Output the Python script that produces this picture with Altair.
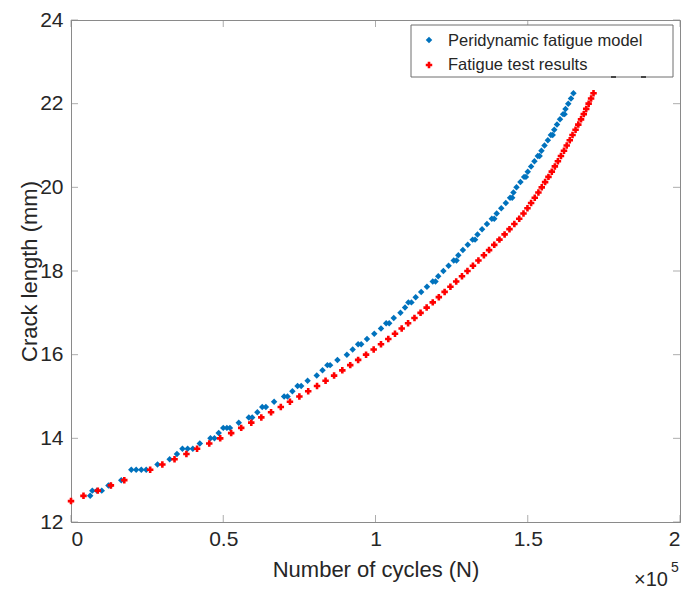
import altair as alt
import pandas as pd

# ---------------- data (x in units of 1e5 cycles, y in mm) ----------------
red_x = [0.0, 0.041, 0.088, 0.131, 0.175, 0.26, 0.30, 0.34, 0.379, 0.414,
         0.454, 0.49, 0.526, 0.559, 0.592, 0.625, 0.657, 0.689, 0.719, 0.750,
         0.779, 0.808, 0.836, 0.864, 0.891, 0.917, 0.943, 0.969, 0.994, 1.018,
         1.042, 1.064, 1.086, 1.107, 1.128, 1.148, 1.168, 1.188, 1.208, 1.227,
         1.246, 1.265, 1.284, 1.302, 1.320, 1.338, 1.356, 1.373, 1.390, 1.407,
         1.424, 1.440, 1.456, 1.472, 1.486, 1.499, 1.511, 1.523, 1.535, 1.546,
         1.557, 1.568, 1.579, 1.589, 1.599, 1.609, 1.619, 1.628, 1.638, 1.647,
         1.657, 1.666, 1.675, 1.684, 1.692, 1.700, 1.708, 1.716]
red_y = [12.5, 12.625, 12.75, 12.875, 13.0, 13.25, 13.375, 13.5, 13.625, 13.75,
         13.875, 14.0, 14.125, 14.25, 14.375, 14.5, 14.625, 14.75, 14.875, 15.0,
         15.125, 15.25, 15.375, 15.5, 15.625, 15.75, 15.875, 16.0, 16.125, 16.25,
         16.375, 16.5, 16.625, 16.75, 16.875, 17.0, 17.125, 17.25, 17.375, 17.5,
         17.625, 17.75, 17.875, 18.0, 18.125, 18.25, 18.375, 18.5, 18.625, 18.75,
         18.875, 19.0, 19.125, 19.25, 19.375, 19.5, 19.625, 19.75, 19.875, 20.0,
         20.125, 20.25, 20.375, 20.5, 20.625, 20.75, 20.875, 21.0, 21.125, 21.25,
         21.375, 21.5, 21.625, 21.75, 21.875, 22.0, 22.125, 22.25]

blue_x = [0.063, 0.070, 0.085, 0.101, 0.123, 0.130, 0.165, 0.198, 0.214, 0.231,
          0.247, 0.284, 0.324, 0.348, 0.366, 0.383, 0.400, 0.423, 0.458, 0.471,
          0.485, 0.500, 0.512, 0.522, 0.551, 0.584, 0.595, 0.612, 0.628, 0.640,
          0.667, 0.700, 0.711, 0.727, 0.744, 0.756, 0.777, 0.807, 0.826, 0.842,
          0.851, 0.875, 0.906, 0.925, 0.943, 0.953, 0.972, 0.996, 1.018, 1.035,
          1.045, 1.060, 1.082, 1.097, 1.108, 1.118, 1.132, 1.150, 1.169, 1.188,
          1.197, 1.206, 1.223, 1.240, 1.257, 1.266, 1.272, 1.287, 1.303, 1.319,
          1.327, 1.335, 1.350, 1.366, 1.382, 1.390, 1.398, 1.413, 1.428, 1.442,
          1.449, 1.453, 1.463, 1.476, 1.488, 1.494, 1.500, 1.511, 1.522, 1.533,
          1.539, 1.545, 1.555, 1.566, 1.576, 1.582, 1.587, 1.596, 1.606, 1.616,
          1.621, 1.624, 1.633, 1.642, 1.650]
blue_y = [12.625, 12.75, 12.75, 12.75, 12.875, 12.875, 13.0, 13.25, 13.25, 13.25,
          13.25, 13.375, 13.5, 13.625, 13.75, 13.75, 13.75, 13.875, 14.0, 14.0,
          14.125, 14.25, 14.25, 14.25, 14.375, 14.5, 14.5, 14.625, 14.75, 14.75,
          14.875, 15.0, 15.0, 15.125, 15.25, 15.25, 15.375, 15.5, 15.625, 15.75,
          15.75, 15.875, 16.0, 16.125, 16.25, 16.25, 16.375, 16.5, 16.625, 16.75,
          16.75, 16.875, 17.0, 17.125, 17.25, 17.25, 17.375, 17.5, 17.625, 17.75,
          17.75, 17.875, 18.0, 18.125, 18.25, 18.25, 18.375, 18.5, 18.625, 18.75,
          18.75, 18.875, 19.0, 19.125, 19.25, 19.25, 19.375, 19.5, 19.625, 19.75,
          19.75, 19.875, 20.0, 20.125, 20.25, 20.25, 20.375, 20.5, 20.625, 20.75,
          20.75, 20.875, 21.0, 21.125, 21.25, 21.25, 21.375, 21.5, 21.625, 21.75,
          21.75, 21.875, 22.0, 22.125, 22.25]

series_names = ["Peridynamic fatigue model", "Fatigue test results"]
x_ticks = [0, 0.5, 1, 1.5, 2]
y_ticks = [12, 14, 16, 18, 20, 22, 24]

BLUE = "#0072BD"
RED = "#FF0000"
GRAY = "#8a8a8a"
TXT = "#262626"
FONT = "Liberation Sans"

W, H = 609, 502
MS = 42  # marker area

blue_df = pd.DataFrame({"N": blue_x, "a": blue_y})
red_df = pd.DataFrame({"N": red_x, "a": red_y})
xt_df = pd.DataFrame({"v": x_ticks})
yt_df = pd.DataFrame({"v": y_ticks})
one = pd.DataFrame({"k": [0]})

xscale = alt.Scale(domain=[0, 2], nice=False, zero=False)
yscale = alt.Scale(domain=[12, 24], nice=False, zero=False)

xaxis = alt.Axis(values=x_ticks, format="~g", title="Number of cycles (N)",
                 ticks=False, grid=False, labelPadding=6, titlePadding=10)
yaxis = alt.Axis(values=y_ticks, format="d", title="Crack length (mm)",
                 ticks=False, grid=False, labelPadding=8, titlePadding=-2)

blue = alt.Chart(blue_df).mark_point(shape="diamond", filled=True, size=MS,
                                      color=BLUE, opacity=1).encode(
    x=alt.X("N:Q", scale=xscale, axis=xaxis),
    y=alt.Y("a:Q", scale=yscale, axis=yaxis),
)
red = alt.Chart(red_df).mark_point(shape="cross", filled=True, size=MS,
                                    color=RED, opacity=1).encode(
    x=alt.X("N:Q", scale=xscale),
    y=alt.Y("a:Q", scale=yscale),
)

# inward tick marks (MATLAB style) on all four sides
TL = 7
xt_bottom = alt.Chart(xt_df).mark_tick(orient="vertical", size=TL, thickness=1,
                                       color=GRAY).encode(
    x=alt.X("v:Q", scale=xscale), y=alt.value(H - TL / 2))
xt_top = alt.Chart(xt_df).mark_tick(orient="vertical", size=TL, thickness=1,
                                    color=GRAY).encode(
    x=alt.X("v:Q", scale=xscale), y=alt.value(TL / 2))
yt_left = alt.Chart(yt_df).mark_tick(orient="horizontal", size=TL, thickness=1,
                                     color=GRAY).encode(
    y=alt.Y("v:Q", scale=yscale), x=alt.value(TL / 2))
yt_right = alt.Chart(yt_df).mark_tick(orient="horizontal", size=TL, thickness=1,
                                      color=GRAY).encode(
    y=alt.Y("v:Q", scale=yscale), x=alt.value(W - TL / 2))

# legend box
leg_box = alt.Chart(one).mark_rect(fill="white", stroke="#6e6e6e",
                                   strokeWidth=1).encode(
    x=alt.value(340), x2=alt.value(602), y=alt.value(5), y2=alt.value(57))
leg_b = alt.Chart(one).mark_point(shape="diamond", filled=True, size=MS,
                                  color=BLUE, opacity=1).encode(
    x=alt.value(358), y=alt.value(20))
leg_r = alt.Chart(one).mark_point(shape="cross", filled=True, size=MS,
                                  color=RED, opacity=1).encode(
    x=alt.value(358), y=alt.value(45))
leg_t1 = alt.Chart(one).mark_text(align="left", baseline="middle", fontSize=16.5,
                                  font=FONT, color=TXT).encode(
    x=alt.value(377), y=alt.value(21), text=alt.value(series_names[0]))
leg_t2 = alt.Chart(one).mark_text(align="left", baseline="middle", fontSize=16.5,
                                  font=FONT, color=TXT).encode(
    x=alt.value(377), y=alt.value(45), text=alt.value(series_names[1]))
dash1 = alt.Chart(one).mark_rule(color="#444444", strokeWidth=2).encode(
    x=alt.value(540), x2=alt.value(545), y=alt.value(57))
dash2 = alt.Chart(one).mark_rule(color="#444444", strokeWidth=2).encode(
    x=alt.value(570), x2=alt.value(575), y=alt.value(57))

# x10^5 exponent label
exp1 = alt.Chart(one).mark_text(align="left", baseline="alphabetic", fontSize=20,
                                font=FONT, color=TXT).encode(
    x=alt.value(563), y=alt.value(566), text=alt.value("×10"))
exp2 = alt.Chart(one).mark_text(align="left", baseline="alphabetic", fontSize=14,
                                font=FONT, color=TXT).encode(
    x=alt.value(600), y=alt.value(552), text=alt.value("5"))

chart = alt.layer(
    blue, red, xt_bottom, xt_top, yt_left, yt_right,
    leg_box, leg_b, leg_r, leg_t1, leg_t2, dash1, dash2, exp1, exp2,
).properties(
    width=W, height=H,
    autosize=alt.AutoSizeParams(type="none"),
    padding={"left": 71, "top": 20, "right": 9, "bottom": 70},
    background="white",
).configure_view(
    stroke=GRAY, strokeWidth=1,
).configure_axis(
    domainColor=GRAY, domainWidth=1,
    labelFont=FONT, titleFont=FONT, labelFontSize=21, titleFontSize=22,
    labelColor=TXT, titleColor=TXT, titleFontWeight="normal",
)

chart.save("out.html", embed_options={"renderer": "svg", "actions": False})
